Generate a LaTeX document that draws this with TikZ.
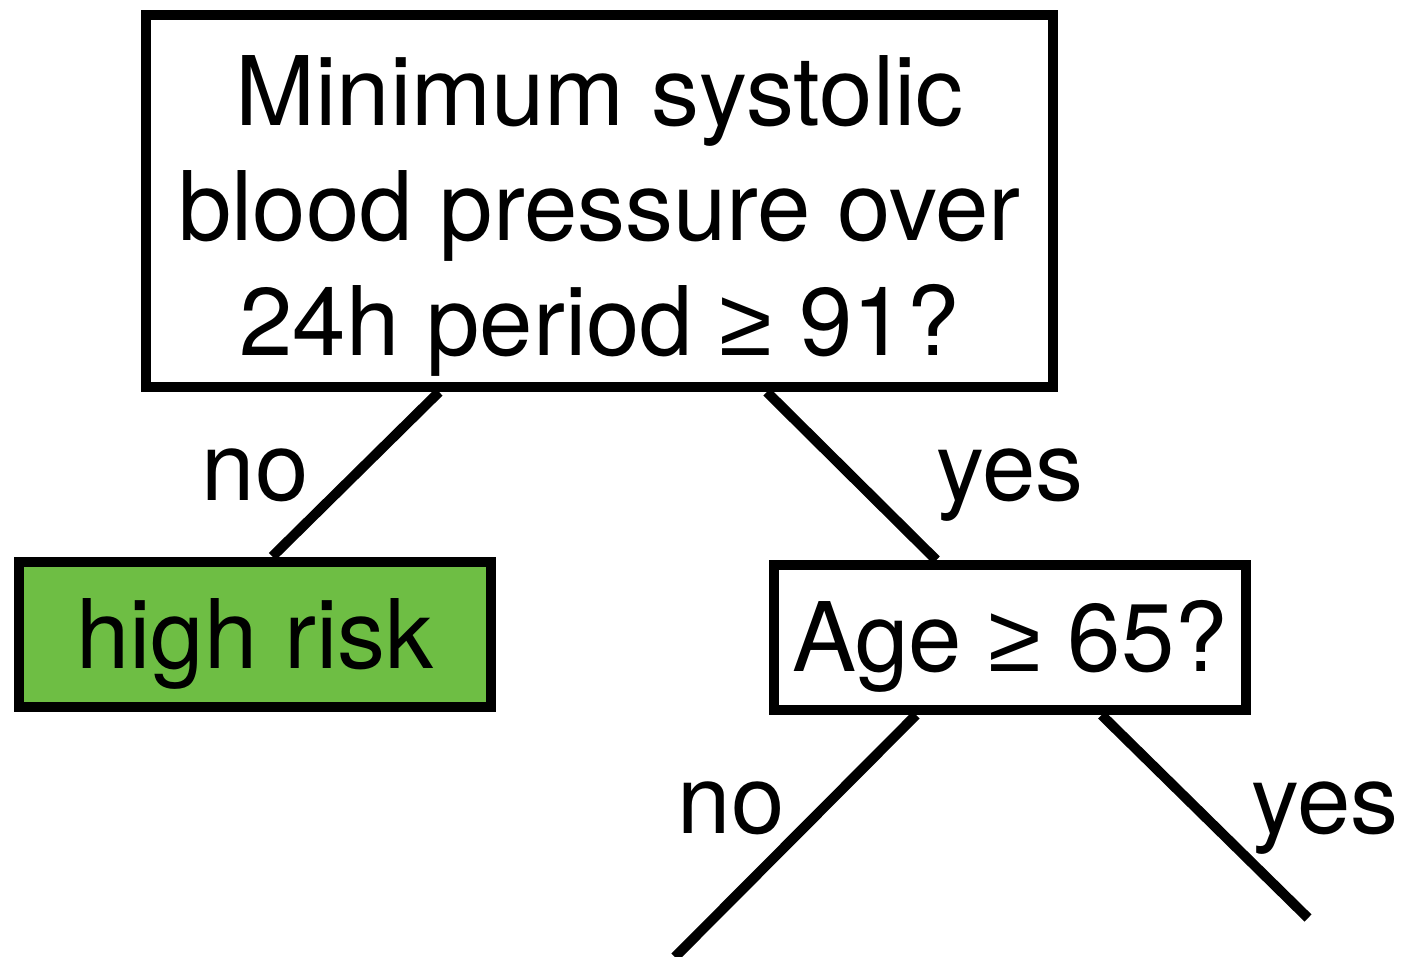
\documentclass[tikz,border=0pt]{standalone}
\usepackage{fontspec}
\setmainfont{TeX Gyre Heros}
\newfontfamily\symfont{Liberation Sans}
\newcommand{\geqsym}{{\symfont ≥}}
\usetikzlibrary{calc}
\definecolor{riskgreen}{HTML}{6EBE44}
\tikzset{
  px/.style={x=0.75pt,y=-0.75pt},
  box/.style={draw=black,line width=7.5pt,inner sep=0pt,minimum width=472*0.75pt,minimum height=145*0.75pt,
              text height=51pt,text depth=0pt},
  branch/.style={line width=7.5pt,line cap=butt},
  answer/.style={anchor=base,inner sep=0pt,font=\fontsize{72}{86}\selectfont}
}
\begin{document}
\begin{tikzpicture}[px]
\useasboundingbox (0,0) rectangle (1407,957);
% question at the root (struts fix where the three lines sit)
\node[draw=black,line width=7.5pt,inner sep=0pt,minimum width=907*0.75pt,minimum height=372*0.75pt,
      align=center,font=\fontsize{72}{86.25}\selectfont] (q1) at (599.5,201)
  {\rule{0pt}{75pt}Minimum systolic\\blood pressure over\\24h period \geqsym{} 91?\rule[-16.5pt]{0pt}{0pt}};
% leaves and second question
\node[box,fill=riskgreen,font=\fontsize{72}{86}\selectfont] (hr) at (255,634) {high risk};
\node[box,font=\fontsize{72}{86}\selectfont] (q2) at (1010,637.5) {Age \geqsym{} 65?};
% free ends of the lower branches
\coordinate (e1) at (675,957);
\coordinate (e2) at (1308,918);
% branches
\draw[branch] ($(q1.south west)!0.325!(q1.south east)$) -- ($(hr.north west)!0.536!(hr.north east)$);
\draw[branch] ($(q1.south west)!0.6825!(q1.south east)$) -- ($(q2.north west)!0.347!(q2.north east)$);
\draw[branch] ($(q2.south west)!0.305!(q2.south east)$) -- (e1);
\draw[branch] ($(q2.south west)!0.69!(q2.south east)$) -- (e2);
% branch labels
\node[answer] (n1) at (255,500) {no};
\node[answer] (y1) at (1010,500) {yes};
\node[answer] (n2) at (731,833) {no};
\node[answer] (y2) at (1325,833) {yes};
\end{tikzpicture}
\end{document}
